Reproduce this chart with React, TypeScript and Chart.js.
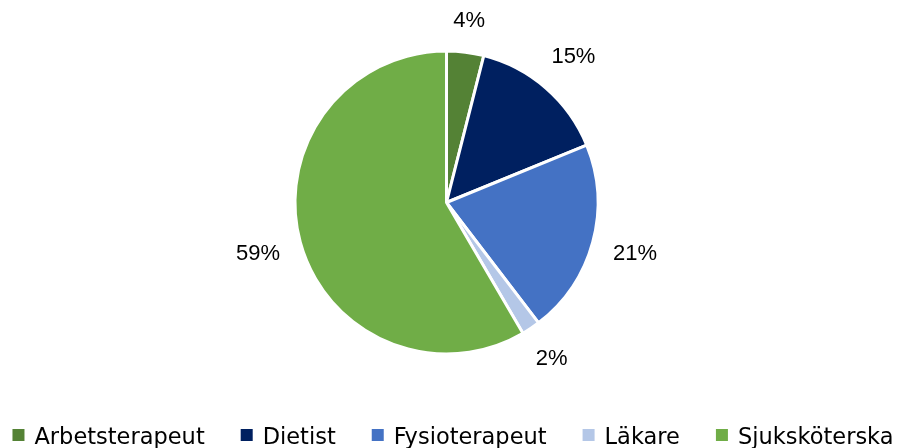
import React, { useEffect, useRef } from "react";
import { Chart, registerables } from "chart.js";

Chart.register(...registerables);

const categories = ["Arbetsterapeut", "Dietist", "Fysioterapeut", "Läkare", "Sjuksköterska"];
const values = [4, 15, 21, 2, 59];
const valueLabels = ["4%", "15%", "21%", "2%", "59%"];
const colors = ["#548235", "#002060", "#4472C4", "#B4C7E7", "#70AD47"];

const LABEL_FONT = "22px 'Liberation Sans', Arial, sans-serif";
const LEGEND_FONT = "22.5px 'DejaVu Sans', sans-serif";

const labelPlugin = {
  id: "outsideLabels",
  afterDatasetsDraw(chart: any) {
    const ctx = chart.ctx;
    const meta = chart.getDatasetMeta(0);
    ctx.save();
    ctx.font = LABEL_FONT;
    ctx.fillStyle = "#000000";
    ctx.textAlign = "center";
    ctx.textBaseline = "middle";
    meta.data.forEach((arc: any, i: number) => {
      const { x, y, startAngle, endAngle, outerRadius } = arc.getProps(
        ["x", "y", "startAngle", "endAngle", "outerRadius"],
        true
      );
      const mid = (startAngle + endAngle) / 2;
      const c = Math.cos(mid);
      const s = Math.sin(mid);
      const hw = ctx.measureText(valueLabels[i]).width / 2;
      const hh = 10;
      const d = outerRadius + 20 + Math.abs(c) * hw + Math.abs(s) * hh;
      ctx.fillText(valueLabels[i], x + c * d, y + s * d);
    });
    ctx.restore();
  },
};

const legendPlugin = {
  id: "bottomLegend",
  afterDraw(chart: any) {
    const ctx = chart.ctx;
    const ds = chart.data.datasets[0];
    const labels: string[] = chart.data.labels;
    const box = 12;
    const boxGap = 10;
    const itemGap = 36;
    ctx.save();
    ctx.font = LEGEND_FONT;
    const widths = labels.map((l) => ctx.measureText(l).width);
    const total =
      widths.reduce((a, w) => a + box + boxGap + w, 0) + itemGap * (labels.length - 1);
    let x = chart.width / 2 + 4 - total / 2;
    const baseline = 444;
    labels.forEach((l, i) => {
      ctx.fillStyle = ds.backgroundColor[i];
      ctx.fillRect(x, 429, box, box);
      ctx.fillStyle = "#000000";
      ctx.textAlign = "left";
      ctx.textBaseline = "alphabetic";
      ctx.fillText(l, x + box + boxGap, baseline);
      x += box + boxGap + widths[i] + itemGap;
    });
    ctx.restore();
  },
};

export default function App() {
  const ref = useRef<HTMLCanvasElement>(null);
  useEffect(() => {
    const chart = new Chart(ref.current!, {
      type: "pie",
      data: {
        labels: categories,
        datasets: [
          {
            data: values,
            backgroundColor: colors,
            borderColor: "#ffffff",
            borderWidth: 3,
          },
        ],
      },
      options: {
        animation: false,
        responsive: true,
        maintainAspectRatio: false,
        layout: { padding: { top: 49.5, left: 293.5, right: 298.5, bottom: 92.5 } },
        plugins: {
          legend: { display: false },
          tooltip: { enabled: false },
        },
      },
      plugins: [labelPlugin, legendPlugin],
    });
    return () => chart.destroy();
  }, []);
  return (
    <div style={{ position: "fixed", left: 0, top: 0, width: 898, height: 448, background: "#fff" }}>
      <canvas ref={ref} />
    </div>
  );
}
